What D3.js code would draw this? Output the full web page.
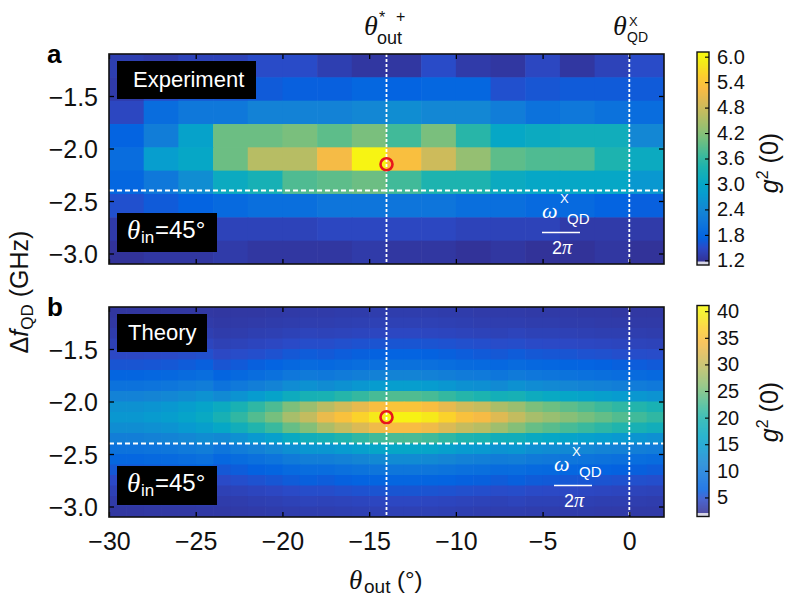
<!DOCTYPE html>
<html><head><meta charset="utf-8">
<script src="https://cdn.jsdelivr.net/npm/d3@7"></script>
<style>body{margin:0;background:#fff}svg{display:block}</style>
</head><body>
<svg id="c" width="788" height="601"></svg>
<script>
// ---------- data ----------
const expTheta = [-29,-27,-25,-23,-21,-19,-17,-15,-13,-11,-9,-7,-5,-3,-1,1];
const expDf = [-1.211,-1.433,-1.656,-1.878,-2.1,-2.322,-2.544,-2.767,-2.989];
const expG2 = [
 [1.35,1.3,1.4,1.4,1.5,1.5,1.35,1.25,1.25,1.5,1.3,1.25,1.45,1.25,1.4,1.5],
 [1.3,1.5,1.6,1.6,1.65,1.7,1.7,1.8,1.75,1.8,1.8,1.55,1.6,1.65,1.65,1.65],
 [1.45,1.9,2.1,2.1,2.3,2.3,2.3,2.4,2.5,2.4,2.4,2.2,2.0,2.1,2.0,1.9],
 [1.75,2.2,2.9,4.0,4.0,4.1,3.9,4.1,3.7,4.1,3.5,3.0,3.1,3.2,3.2,2.4],
 [1.9,2.8,3.0,4.0,4.6,4.6,5.2,6.0,5.3,4.8,4.3,3.9,3.8,3.8,3.4,3.1],
 [1.8,2.1,2.5,3.1,3.3,3.8,3.9,4.0,3.7,3.4,3.4,3.1,3.0,3.0,3.0,2.7],
 [1.55,1.65,1.75,1.85,1.95,1.95,2.05,2.05,2.05,2.05,1.95,1.95,1.85,1.85,1.75,1.7],
 [1.3,1.3,1.35,1.4,1.4,1.4,1.45,1.45,1.45,1.45,1.4,1.4,1.4,1.3,1.3,1.3],
 [1.2,1.25,1.25,1.3,1.25,1.25,1.25,1.3,1.25,1.25,1.2,1.25,1.2,1.2,1.25,1.2]
];
const thTheta = [-29.5,-28.5,-27.5,-26.5,-25.5,-24.5,-23.5,-22.5,-21.5,-20.5,-19.5,-18.5,-17.5,-16.5,-15.5,-14.5,
 -13.5,-12.5,-11.5,-10.5,-9.5,-8.5,-7.5,-6.5,-5.5,-4.5,-3.5,-2.5,-1.5,-0.5,0.5,1.5];
const thDf = [-1.15,-1.25,-1.35,-1.45,-1.55,-1.65,-1.75,-1.85,-1.95,-2.05,-2.15,-2.25,-2.35,-2.45,-2.55,-2.65,-2.75,-2.85,-2.95,-3.05];
const thG2 = [
 [2.6,2.6,2.6,2.7,2.7,2.8,2.7,2.8,2.8,2.9,3.0,3.1,3.1,3.2,3.2,3.3,3.3,3.3,3.3,3.2,3.2,3.1,3.1,3.1,3.0,3.0,3.0,2.9,2.9,2.8,2.8,2.8],
 [2.8,2.8,2.9,2.9,3.0,3.1,2.9,3.0,3.1,3.2,3.3,3.4,3.4,3.5,3.6,3.7,3.7,3.7,3.7,3.6,3.5,3.4,3.4,3.4,3.3,3.3,3.2,3.2,3.1,3.1,3.0,3.0],
 [3.2,3.2,3.3,3.3,3.4,3.5,3.2,3.3,3.5,3.6,3.8,4.0,3.9,4.0,4.1,4.2,4.3,4.3,4.2,4.1,4.0,3.9,3.8,4.0,3.8,3.8,3.7,3.6,3.5,3.5,3.4,3.3],
 [3.7,3.7,3.8,3.8,4.0,4.1,3.7,3.9,4.1,4.3,4.6,4.8,4.8,5.0,5.2,5.3,5.4,5.4,5.3,5.2,5.0,4.9,4.7,4.8,4.6,4.5,4.4,4.3,4.2,4.1,4.0,3.9],
 [4.4,4.4,4.5,4.6,4.8,5.0,4.4,4.7,4.9,5.2,5.6,5.9,5.7,6.0,6.2,6.4,6.6,6.6,6.4,6.2,6.0,5.8,5.6,5.9,5.6,5.5,5.4,5.2,5.1,4.9,4.8,4.7],
 [5.4,5.4,5.5,5.6,5.9,6.2,5.4,5.8,6.2,6.6,7.2,7.6,7.3,7.6,8.0,8.3,8.5,8.5,8.3,8.0,7.6,7.4,7.1,7.6,7.2,7.0,6.8,6.6,6.4,6.2,6.0,5.8],
 [6.8,6.8,7.0,7.2,7.6,8.0,6.8,7.3,7.9,8.4,9.3,9.8,9.4,9.9,10.4,10.9,11.1,11.1,10.9,10.4,9.9,9.7,9.2,9.8,9.3,9.0,8.7,8.4,8.2,7.9,7.6,7.3],
 [8.6,8.6,8.9,9.2,9.7,10.3,8.8,9.6,10.4,11.2,12.4,13.2,12.5,13.2,13.9,14.6,14.9,14.9,14.6,13.9,13.2,12.9,12.2,13.2,12.4,12.0,11.6,11.2,10.8,10.4,10.0,9.6],
 [11.0,11.0,11.4,11.8,12.5,13.3,12.2,13.4,14.6,15.8,17.6,18.8,19.1,20.2,21.3,22.4,22.9,22.9,22.4,21.3,20.2,19.6,18.5,18.8,17.6,17.0,16.4,15.8,15.2,14.6,14.0,13.4],
 [13.2,13.2,13.6,14.1,15.0,16.0,17.3,19.1,20.9,22.7,25.4,27.2,29.3,31.0,32.8,34.6,35.4,35.4,34.6,32.8,31.0,30.2,28.4,27.2,25.4,24.5,23.6,22.7,21.8,20.9,20.0,19.1],
 [14,14,14.5,15,16,17,19,21,23,25,28,30,33,35,37,39,40,40,39,37,35,34,32,30,28,27,26,25,24,23,22,21],
 [12.6,12.6,13.0,13.4,14.3,15.2,16.5,18.2,19.9,21.6,24.1,25.8,28.4,30.1,31.8,33.5,34.3,34.3,33.5,31.8,30.1,29.2,27.5,25.8,24.1,23.3,22.4,21.6,20.7,19.9,19.0,18.2],
 [10.4,10.4,10.8,11.1,11.8,12.5,11.9,13.0,14.2,15.3,17.1,18.2,18.7,19.8,20.9,22.0,22.5,22.5,22.0,20.9,19.8,19.3,18.2,18.2,17.1,16.5,15.9,15.3,14.8,14.2,13.6,13.0],
 [8.6,8.6,8.9,9.2,9.7,10.3,9.1,10.0,10.8,11.7,12.9,13.8,13.8,14.5,15.3,16.1,16.4,16.4,16.1,15.3,14.5,14.2,13.4,13.8,12.9,12.5,12.1,11.7,11.2,10.8,10.4,10.0],
 [7.0,7.0,7.3,7.5,7.9,8.3,7.1,7.7,8.3,8.9,9.8,10.4,10.4,10.9,11.5,12.0,12.3,12.3,12.0,11.5,10.9,10.6,10.1,10.4,9.8,9.5,9.2,8.9,8.6,8.3,8.0,7.7],
 [5.6,5.6,5.8,5.9,6.2,6.5,5.6,6.0,6.4,6.8,7.5,7.9,7.9,8.3,8.7,9.0,9.2,9.2,9.0,8.7,8.3,8.1,7.7,7.9,7.5,7.3,7.0,6.8,6.6,6.4,6.2,6.0],
 [4.5,4.5,4.6,4.7,4.9,5.2,4.6,4.9,5.2,5.5,5.9,6.2,6.0,6.3,6.6,6.8,6.9,6.9,6.8,6.6,6.3,6.2,5.9,6.2,5.9,5.8,5.6,5.5,5.3,5.2,5.0,4.9],
 [3.7,3.7,3.8,3.8,4.0,4.1,3.7,3.9,4.1,4.3,4.6,4.8,4.8,5.0,5.2,5.3,5.4,5.4,5.3,5.2,5.0,4.9,4.7,4.8,4.6,4.5,4.4,4.3,4.2,4.1,4.0,3.9],
 [3.1,3.1,3.1,3.2,3.3,3.4,3.2,3.3,3.5,3.6,3.8,4.0,3.9,4.0,4.1,4.2,4.3,4.3,4.2,4.1,4.0,3.9,3.8,4.0,3.8,3.8,3.7,3.6,3.5,3.5,3.4,3.3],
 [2.7,2.7,2.8,2.8,2.8,2.9,2.9,3.0,3.1,3.2,3.3,3.4,3.4,3.5,3.6,3.7,3.7,3.7,3.7,3.6,3.5,3.4,3.4,3.4,3.3,3.3,3.2,3.2,3.1,3.1,3.0,3.0]
];
const xTicks = [-30,-25,-20,-15,-10,-5,0];
const yTicks = [-1.5,-2.0,-2.5,-3.0];
const cbTicksA = [1.2,1.8,2.4,3.0,3.6,4.2,4.8,5.4,6.0];
const cbTicksB = [5,10,15,20,25,30,35,40];
const thetaStar = -14, thetaQD = 0, omegaQD = -2.4, markerDf = -2.15;

// ---------- style ----------
const parulaPos = [0,5,8,13,16,21,24,29,32,37,40,45,48,52,56,60,63].map(k => k / 63);
const parulaCol = ["#352a87","#2b4ac7","#0363e1","#1079da","#1485d4","#079ccf","#06a7c6","#1db3af","#38b99e",
  "#71bf80","#92bf73","#c0bc60","#d9ba56","#f8bb44","#fcce2e","#f5eb18","#f9fb0e"];
const parulaScale = d3.scaleLinear(parulaPos, parulaCol).interpolate(d3.interpolateRgb).clamp(true);
const parula = t => parulaScale(t);
const SANS = "'Liberation Sans', Arial, Helvetica, sans-serif";
const SERIF = "'Liberation Serif', 'Times New Roman', serif";

const svg = d3.select("#c");
const x = d3.scaleLinear([-30, 2], [109, 664]);

const panels = [
  {letter:"a", top:54, bottom:264, theta:expTheta, df:expDf, z:expG2, cdom:[1.09,6.11],
   cbTop:52, cbBot:265, cbTicks:cbTicksA, cbFmt:d3.format(".1f"), title:"Experiment", titleW:139,
   omegaDx:0, xLabels:false},
  {letter:"b", top:307, bottom:517, theta:thTheta, df:thDf, z:thG2, cdom:[1.42,41.07],
   cbTop:305.5, cbBot:516.5, cbTicks:cbTicksB, cbFmt:d3.format("d"), title:"Theory", titleW:90,
   omegaDx:12, xLabels:true}
];

panels.forEach((p, pi) => {
  const y = d3.scaleLinear([-1.1, -3.1], [p.top, p.bottom]);
  const color = d3.scaleSequential(parula).domain(p.cdom);
  const g = svg.append("g");
  const clipId = "clip" + pi;
  svg.append("clipPath").attr("id", clipId).append("rect")
    .attr("x", 109).attr("y", p.top).attr("width", 664 - 109).attr("height", p.bottom - p.top);
  const cells = g.append("g").attr("clip-path", `url(#${clipId})`);
  const dT = Math.abs(p.theta[1] - p.theta[0]);
  const dF = Math.abs(p.df[0] - p.df[p.df.length - 1]) / (p.df.length - 1);
  p.z.forEach((row, i) => {
    row.forEach((v, j) => {
      const x0 = x(p.theta[j] - dT / 2), x1 = x(p.theta[j] + dT / 2);
      const y0 = y(p.df[i] + dF / 2), y1 = y(p.df[i] - dF / 2);
      cells.append("rect").attr("x", x0).attr("y", y0)
        .attr("width", x1 - x0 + 0.6).attr("height", y1 - y0 + 0.6)
        .attr("fill", color(v));
    });
  });

  // dashed guide lines
  const guides = g.append("g").attr("stroke", "#fff").attr("fill", "none");
  [thetaStar, thetaQD].forEach(t => guides.append("line")
    .attr("x1", x(t)).attr("x2", x(t)).attr("y1", p.top).attr("y2", p.bottom)
    .attr("stroke-width", 1.8).attr("stroke-dasharray", "3,2"));
  guides.append("line").attr("x1", 109).attr("x2", 664)
    .attr("y1", y(omegaQD)).attr("y2", y(omegaQD))
    .attr("stroke-width", 1.8).attr("stroke-dasharray", "5,3");

  // marker
  g.append("circle").attr("cx", x(thetaStar)).attr("cy", y(markerDf)).attr("r", 6)
    .attr("fill", "none").attr("stroke", "#e8161c").attr("stroke-width", 2.6);

  // axes with inward ticks
  const ax = (gen, tx, ty) => g.append("g").attr("transform", `translate(${tx},${ty})`).call(gen);
  const fmtY = d3.format(".1f");
  const left = ax(d3.axisLeft(y).tickValues(yTicks).tickFormat(fmtY).tickSize(-5).tickPadding(11), 109, 0);
  ax(d3.axisRight(y).tickValues(yTicks).tickFormat("").tickSize(-5), 664, 0);
  ax(d3.axisTop(x).tickValues(xTicks).tickFormat("").tickSize(-5), 0, p.top);
  const bottom = ax(d3.axisBottom(x).tickValues(xTicks).tickFormat(p.xLabels ? d3.format("d") : "")
     .tickSize(-5).tickPadding(11), 0, p.bottom);
  g.selectAll(".domain").remove();
  g.selectAll(".tick line").attr("stroke", "#000").attr("stroke-width", 1.3);
  g.selectAll(".tick text").attr("font-family", SANS).attr("font-size", 25).attr("fill", "#111");
  left.selectAll(".tick text").attr("dy", "0.36em");
  bottom.selectAll(".tick text").attr("dy", "0.86em");

  g.append("rect").attr("x", 109).attr("y", p.top).attr("width", 664 - 109).attr("height", p.bottom - p.top)
    .attr("fill", "none").attr("stroke", "#111").attr("stroke-width", 1.6);

  // panel letter
  g.append("text").attr("x", 47).attr("y", p.top + 9).attr("font-family", SANS).attr("font-weight", "bold")
    .attr("font-size", 26).text(p.letter);

  // title box
  const off = p.top - 54;
  g.append("rect").attr("x", 117).attr("y", 61 + off).attr("width", p.titleW).attr("height", 38).attr("fill", "#000");
  g.append("text").attr("x", 133 - (pi ? 5 : 0)).attr("y", 87 + off).attr("fill", "#fff")
    .attr("font-family", SANS).attr("font-size", 22).text(p.title);

  // theta_in box
  g.append("rect").attr("x", 117).attr("y", 213 + off).attr("width", 100).attr("height", 39).attr("fill", "#000");
  const tin = g.append("text").attr("fill", "#fff").attr("font-family", SANS);
  tin.append("tspan").attr("x", 127).attr("y", 239 + off).attr("font-family", SERIF).attr("font-style", "italic")
    .attr("font-size", 27).text("θ");
  tin.append("tspan").attr("x", 141).attr("y", 243 + off).attr("font-size", 17).text("in");
  tin.append("tspan").attr("x", 155).attr("y", 238 + off).attr("font-size", 24).text("=45°");

  // omega label
  const ox = p.omegaDx;
  const om = g.append("text").attr("fill", "#fff").attr("font-family", SANS);
  om.append("tspan").attr("x", 542 + ox).attr("y", 218 + off).attr("font-family", SERIF).attr("font-style", "italic")
    .attr("font-size", 22).text("ω");
  om.append("tspan").attr("x", 560 + ox).attr("y", 203 + off).attr("font-size", 13).text("X");
  om.append("tspan").attr("x", 567 + ox).attr("y", 224 + off).attr("font-size", 15).text("QD");
  g.append("line").attr("x1", 542 + ox).attr("x2", 580 + ox).attr("y1", 232.5 + off).attr("y2", 232.5 + off)
    .attr("stroke", "#fff").attr("stroke-width", 1.6);
  const tp = g.append("text").attr("fill", "#fff").attr("x", 552 + ox).attr("y", 254 + off)
    .attr("font-family", SANS).attr("font-size", 18);
  tp.append("tspan").text("2");
  tp.append("tspan").attr("font-family", SERIF).attr("font-style", "italic").attr("font-size", 20).text("π");

  // colorbar
  const cbY = d3.scaleLinear(p.cdom, [p.cbBot, p.cbTop]);
  const cb = g.append("g");
  for (let yy = p.cbTop; yy < p.cbBot - 3; yy += 1) {
    cb.append("rect").attr("x", 697).attr("y", yy).attr("width", 12).attr("height", 1.2)
      .attr("fill", color(cbY.invert(yy + 0.5)));
  }
  cb.append("rect").attr("x", 697).attr("y", p.cbBot - 3.5).attr("width", 12).attr("height", 3.5).attr("fill", "#d6d6e4");
  const cba = ax(d3.axisRight(cbY).tickValues(p.cbTicks).tickFormat(p.cbFmt).tickSize(-4).tickPadding(8), 709, 0);
  cba.select(".domain").remove();
  cba.selectAll(".tick line").attr("stroke", "#000").attr("stroke-width", 1.1);
  cba.selectAll(".tick text").attr("font-family", SANS).attr("font-size", 20).attr("fill", "#111");
  cb.append("rect").attr("x", 697).attr("y", p.cbTop).attr("width", 12).attr("height", p.cbBot - p.cbTop)
    .attr("fill", "none").attr("stroke", "#111").attr("stroke-width", 1.4);

  // colorbar label g^2 (0)
  const cy = pi ? 412 : 163;
  const lab = g.append("text").attr("transform", `translate(778,${cy}) rotate(-90)`).attr("text-anchor", "middle")
    .attr("font-family", SANS).attr("font-size", 25).attr("fill", "#111");
  lab.append("tspan").attr("font-style", "italic").text("g");
  lab.append("tspan").attr("font-size", 16).attr("dy", -10).text("2");
  lab.append("tspan").attr("dy", 10).text(" (0)");
});

// y axis label
const yl = svg.append("text").attr("transform", "translate(28,292) rotate(-90)").attr("text-anchor", "middle")
  .attr("font-family", SANS).attr("font-size", 25).attr("fill", "#111");
yl.append("tspan").text("Δ");
yl.append("tspan").attr("font-style", "italic").text("f");
yl.append("tspan").attr("font-size", 17).attr("dy", 5).text("QD");
yl.append("tspan").attr("dy", -5).text(" (GHz)");

// x axis label
const xl = svg.append("text").attr("fill", "#111").attr("font-family", SANS);
xl.append("tspan").attr("x", 349).attr("y", 589).attr("font-family", SERIF).attr("font-style", "italic")
  .attr("font-size", 27).text("θ");
xl.append("tspan").attr("x", 364).attr("y", 593).attr("font-size", 19).text("out");
xl.append("tspan").attr("x", 397).attr("y", 588).attr("font-size", 24).text("(°)");

// top annotations
const t1 = svg.append("text").attr("fill", "#111").attr("font-family", SANS);
t1.append("tspan").attr("x", 364).attr("y", 35).attr("font-family", SERIF).attr("font-style", "italic").attr("font-size", 28).text("θ");
t1.append("tspan").attr("x", 379).attr("y", 23).attr("font-size", 16).text("*");
t1.append("tspan").attr("x", 396).attr("y", 22).attr("font-size", 16).text("+");
t1.append("tspan").attr("x", 377).attr("y", 44).attr("font-size", 18).text("out");
const t2 = svg.append("text").attr("fill", "#111").attr("font-family", SANS);
t2.append("tspan").attr("x", 613).attr("y", 35).attr("font-family", SERIF).attr("font-style", "italic").attr("font-size", 28).text("θ");
t2.append("tspan").attr("x", 629).attr("y", 26).attr("font-size", 13).text("X");
t2.append("tspan").attr("x", 627).attr("y", 42).attr("font-size", 14).text("QD");
</script>
</body></html>
